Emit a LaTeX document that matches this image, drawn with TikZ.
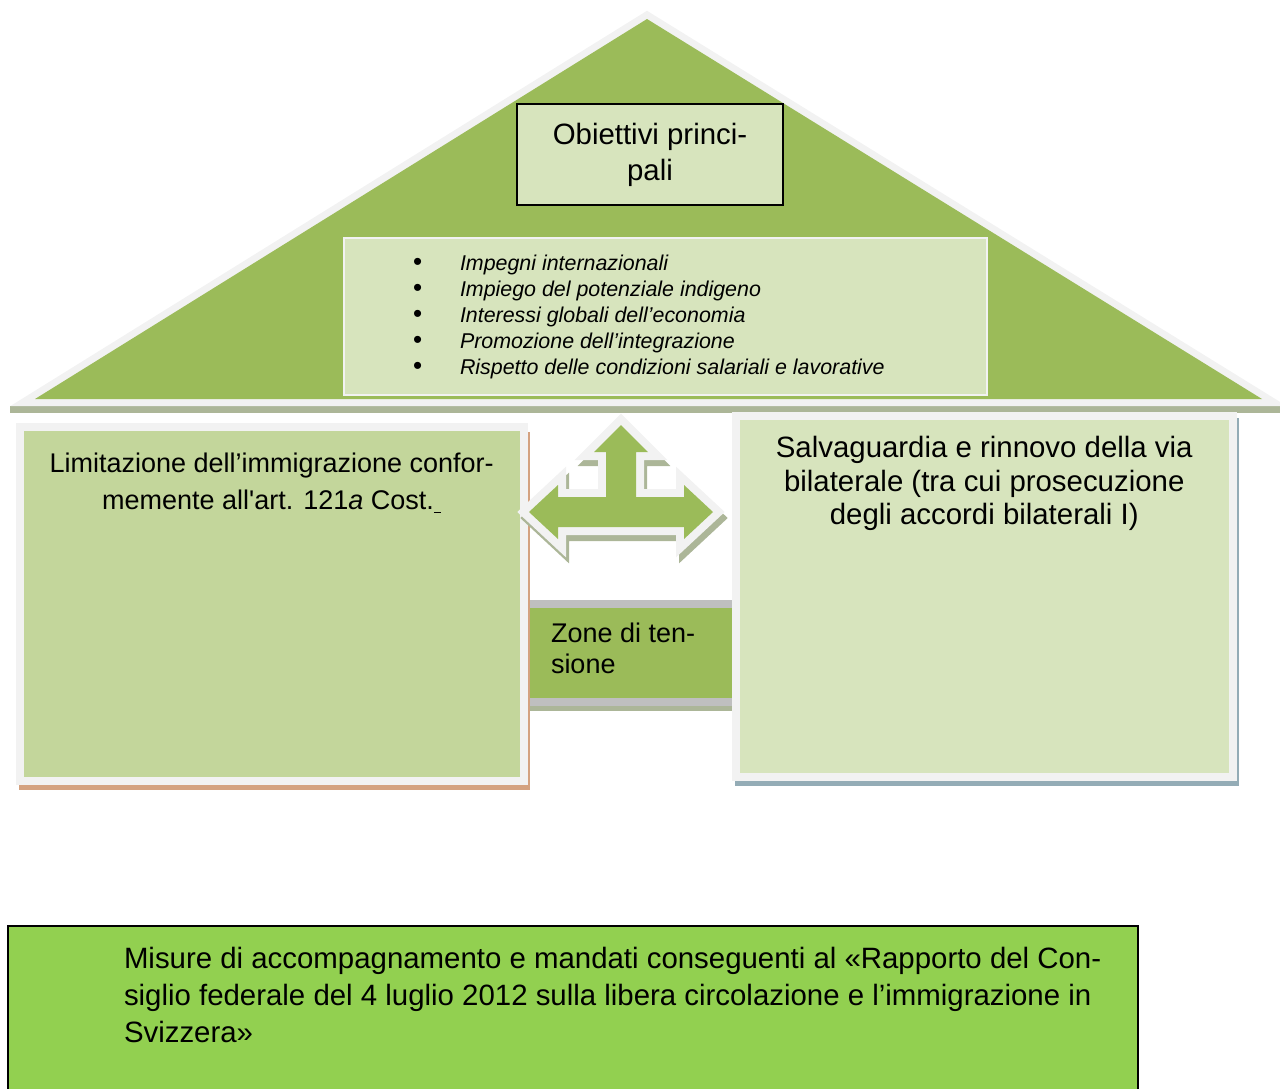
\documentclass[tikz,border=0pt]{standalone}
\usepackage{fontspec}
\setmainfont{Liberation Sans}[Ligatures=TeXOff]
\usetikzlibrary{positioning}

\definecolor{roofgreen}{HTML}{9BBB59}
\definecolor{palegreen}{HTML}{D7E4BD}
\definecolor{leftgreen}{HTML}{C3D69B}
\definecolor{framegray}{HTML}{F2F2F2}
\definecolor{bandgray}{HTML}{BFBFBF}
\definecolor{basegreen}{HTML}{92D050}
\definecolor{shadowgreen}{RGB}{172,182,152}
\definecolor{shadowbrown}{RGB}{212,162,128}
\definecolor{shadowblue}{RGB}{148,172,182}

\newcommand{\bul}{\makebox[23.5pt][l]{\fontsize{13}{13}\selectfont\textbullet}}

\begin{document}
\begin{tikzpicture}[x=0.5pt,y=-0.5pt,
  every node/.style={inner sep=0pt,outer sep=0pt},
  txt/.style={font=\fontsize{13.5}{18.5}\selectfont},
  bigtxt/.style={font=\fontsize{14.7}{18.5}\selectfont},
  box/.style={rectangle,anchor=north west,line width=4pt}]
\useasboundingbox (0,0) rectangle (1280,1088);

% roof
\fill[shadowgreen] (10,406) rectangle (1280,413);
\draw[framegray,line width=7pt,line join=miter] (647,19) -- (35,399) -- (1262,399) -- cycle;
\fill[roofgreen] (647,19) -- (35,399) -- (1262,399) -- cycle;

\node (goal) [draw=black,line width=1pt,fill=palegreen,anchor=north west,
  minimum width=133pt,minimum height=50.5pt,align=center,
  font=\fontsize{14.7}{18}\selectfont]
  at (517,104) {Obiettivi princi-\\pali};

\node (listbox) [draw=framegray,line width=1pt,fill=palegreen,anchor=north west,
  minimum width=321.5pt,minimum height=78.5pt] at (344,238) {};
\node (list) [below right=8.7pt and 34.5pt of listbox.north west,
  font=\fontsize{10.7}{13}\selectfont,align=left]
  {\bul\textit{Impegni internazionali}\\
   \bul\textit{Impiego del potenziale indigeno}\\
   \bul\textit{Interessi globali dell’economia}\\
   \bul\textit{Promozione dell’integrazione}\\
   \bul\textit{Rispetto delle condizioni salariali e lavorative}};

% zone di tensione
\fill[shadowgreen] (529,602) rectangle (732,711);
\fill[bandgray] (529,600) rectangle (732,706);
\node (zone) [fill=roofgreen,anchor=north west,minimum width=101.5pt,minimum height=45pt]
  at (529,608) {};
\node (zonetext) [below right=7.5pt and 11pt of zone.north west,align=left,
  font=\fontsize{13.5}{15.5}\selectfont] {Zone di ten-\\sione};

% pillars
\fill[shadowbrown] (19,432) rectangle (529.5,790);
\node (limbox) [box,draw=framegray,fill=leftgreen,minimum width=251.75pt,minimum height=177pt]
  at (20,427) {};
\node (limtext) [below=13pt of limbox.north,txt,align=center]
  {Limitazione dell’immigrazione confor-\\memente all'art. 121\textit{a} Cost.\underline{\ }};

\fill[shadowblue] (735,418) rectangle (1239,786);
\node (bilbox) [box,draw=framegray,fill=palegreen,minimum width=248.25pt,minimum height=180.25pt]
  at (736,416) {};
\node (biltext) [below=10.25pt of bilbox.north,align=center,
  font=\fontsize{14.7}{16.75}\selectfont]
  {Salvaguardia e rinnovo della via\\bilaterale (tra cui prosecuzione\\degli accordi bilaterali I)};

% arrow
\begin{scope}[shift={(3,6)}]
\filldraw[shadowgreen,line width=8pt,line join=miter]
  (621,425) -- (648,452) -- (636,452) -- (636,497) -- (684,497) -- (684,485) -- (713,512)
  -- (684,539) -- (684,527) -- (558,527) -- (558,539) -- (529,512) -- (558,485)
  -- (558,497) -- (606,497) -- (606,452) -- (594,452) -- cycle;
\end{scope}
\draw[framegray,line width=8pt,line join=miter]
  (621,425) -- (648,452) -- (636,452) -- (636,497) -- (684,497) -- (684,485) -- (713,512)
  -- (684,539) -- (684,527) -- (558,527) -- (558,539) -- (529,512) -- (558,485)
  -- (558,497) -- (606,497) -- (606,452) -- (594,452) -- cycle;
\fill[roofgreen]
  (621,425) -- (648,452) -- (636,452) -- (636,497) -- (684,497) -- (684,485) -- (713,512)
  -- (684,539) -- (684,527) -- (558,527) -- (558,539) -- (529,512) -- (558,485)
  -- (558,497) -- (606,497) -- (606,452) -- (594,452) -- cycle;

% base
\node (misbox) [draw=black,line width=1pt,fill=basegreen,anchor=north west,
  minimum width=565pt,minimum height=90pt] at (8,926) {};
\node (mistext) [below right=10.75pt and 58pt of misbox.north west,bigtxt,align=left]
  {Misure di accompagnamento e mandati conseguenti al «Rapporto del Con-\\
   siglio federale del 4 luglio 2012 sulla libera circolazione e l’immigrazione in\\
   Svizzera»};
\end{tikzpicture}
\end{document}
